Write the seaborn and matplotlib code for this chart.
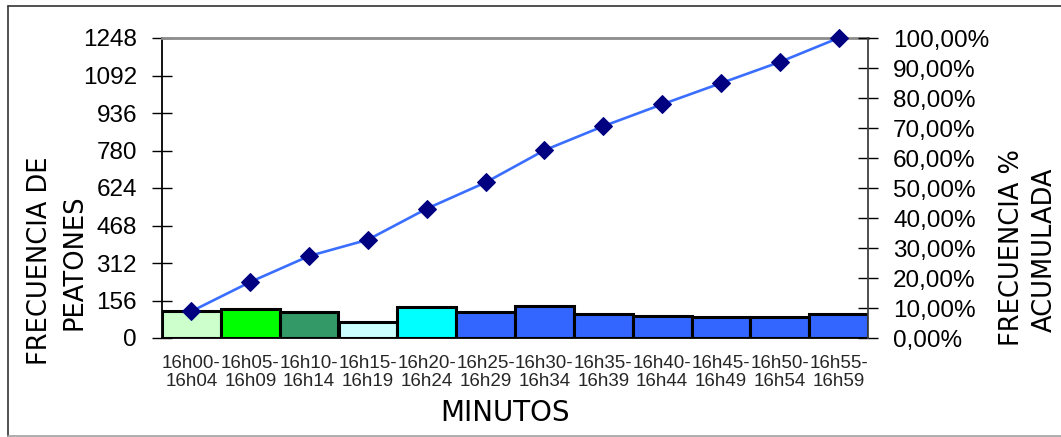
import numpy as np
import pandas as pd
import matplotlib
matplotlib.use("Agg")
import matplotlib.pyplot as plt
from matplotlib.lines import Line2D
from matplotlib.ticker import FixedLocator, FuncFormatter
import seaborn as sns

# Pedestrian counts per 5-minute interval
intervals = ["16h00-\n16h04", "16h05-\n16h09", "16h10-\n16h14", "16h15-\n16h19",
             "16h20-\n16h24", "16h25-\n16h29", "16h30-\n16h34", "16h35-\n16h39",
             "16h40-\n16h44", "16h45-\n16h49", "16h50-\n16h54", "16h55-\n16h59"]
peatones = [111, 122, 108, 68, 129, 109, 134, 100, 91, 88, 88, 100]
bar_colors = ["#CCFFCC", "#00FF00", "#339966", "#CCFFFF", "#00FFFF", "#3366FF",
              "#3366FF", "#3366FF", "#3366FF", "#3366FF", "#3366FF", "#3366FF"]
left_ticks = [0, 156, 312, 468, 624, 780, 936, 1092, 1248]
right_ticks = [0.0, 0.1, 0.2, 0.3, 0.4, 0.5, 0.6, 0.7, 0.8, 0.9, 1.0]

df = pd.DataFrame({"intervalo": intervals, "peatones": peatones})
df["pos"] = np.arange(len(df))
df["acumulado"] = df["peatones"].cumsum() / df["peatones"].sum()

sns.set_style("white")
plt.rcParams["font.family"] = ["Liberation Sans", "DejaVu Sans"]

W, H = 1061, 437
fig = plt.figure(figsize=(W / 100, H / 100), dpi=100)
x0, x1, yt, yb = 162, 868, 38, 338
ax = fig.add_axes([x0 / W, (H - yb) / H, (x1 - x0) / W, (yb - yt) / H])

sns.barplot(data=df, x="intervalo", y="peatones", hue="intervalo",
            palette=bar_colors, saturation=1, width=1.0, edgecolor="black",
            linewidth=2.2, legend=False, ax=ax, zorder=2)

ax.set_xlim(-0.5, len(df) - 0.5)
ax.set_ylim(0, 1248)
ax.yaxis.set_major_locator(FixedLocator(left_ticks))
ax.yaxis.set_major_formatter(FuncFormatter(lambda v, p: f"{int(round(v))}"))
ax.tick_params(axis="y", direction="inout", length=14, width=1, pad=11,
               labelsize=17.5, colors="black")
ax.set_xticks(df["pos"])
ax.set_xticklabels(intervals, fontsize=13.5, linespacing=1.1)
ax.tick_params(axis="x", which="major", length=0, pad=12)
ax.set_xticks(np.arange(-0.5, len(df)), minor=True)
ax.tick_params(axis="x", which="minor", direction="out", length=4, width=1)
ax.set_xlabel("")
ax.set_ylabel("")

for side in ["left", "bottom"]:
    ax.spines[side].set_color("black")
    ax.spines[side].set_linewidth(1.3)
ax.spines["top"].set_color("#8c8c8c")
ax.spines["top"].set_linewidth(2)
ax.spines["right"].set_visible(False)

# Cumulative percentage on the secondary axis
ax2 = ax.twinx()
sns.lineplot(data=df, x="pos", y="acumulado", ax=ax2, color="#3A6EFF",
             linewidth=1.9, marker="D", markersize=9.5, markerfacecolor="#000080",
             markeredgecolor="#000080", sort=False, zorder=3)
ax2.set_ylim(0, 1.0)
ax2.set_xlim(-0.5, len(df) - 0.5)
ax2.yaxis.set_major_locator(FixedLocator(right_ticks))
ax2.yaxis.set_major_formatter(FuncFormatter(lambda v, p: f"{v * 100:.2f}%".replace(".", ",")))
ax2.tick_params(axis="y", direction="inout", length=14, width=1, pad=11,
                labelsize=17.5, colors="black")
ax2.set_ylabel("")
ax2.set_xlabel("")
for side in ["left", "bottom", "top"]:
    ax2.spines[side].set_visible(False)
ax2.spines["right"].set_color("#404040")
ax2.spines["right"].set_linewidth(1.3)
for ln in ax2.lines:
    ln.set_clip_on(False)

# Axis titles
title_kw = dict(family=["DejaVu Sans"], color="black")
fig.text(505 / W, 1 - 413 / H, "MINUTOS", ha="center", va="center", fontsize=20, **title_kw)
fig.text(40 / W, 1 - 261 / H, "FRECUENCIA DE", rotation=90, ha="center", va="center", fontsize=18.5, **title_kw)
fig.text(75 / W, 1 - 262 / H, "PEATONES", rotation=90, ha="center", va="center", fontsize=18.5, **title_kw)
fig.text(1012 / W, 1 - 248 / H, "FRECUENCIA %", rotation=90, ha="center", va="center", fontsize=18.5, **title_kw)
fig.text(1045 / W, 1 - 250 / H, "ACUMULADA", rotation=90, ha="center", va="center", fontsize=18.5, **title_kw)

# Chart frame
fig.add_artist(Line2D([8 / W, 8 / W], [1 - 6 / H, 1 - 436 / H], color="#333333", lw=1.2))
fig.add_artist(Line2D([8 / W, 1.0], [1 - 6 / H, 1 - 6 / H], color="#333333", lw=1.2))
fig.add_artist(Line2D([8 / W, 1.0], [1 - 436 / H, 1 - 436 / H], color="#a0a0a0", lw=1.2))

fig.savefig("out.png", dpi=100)
